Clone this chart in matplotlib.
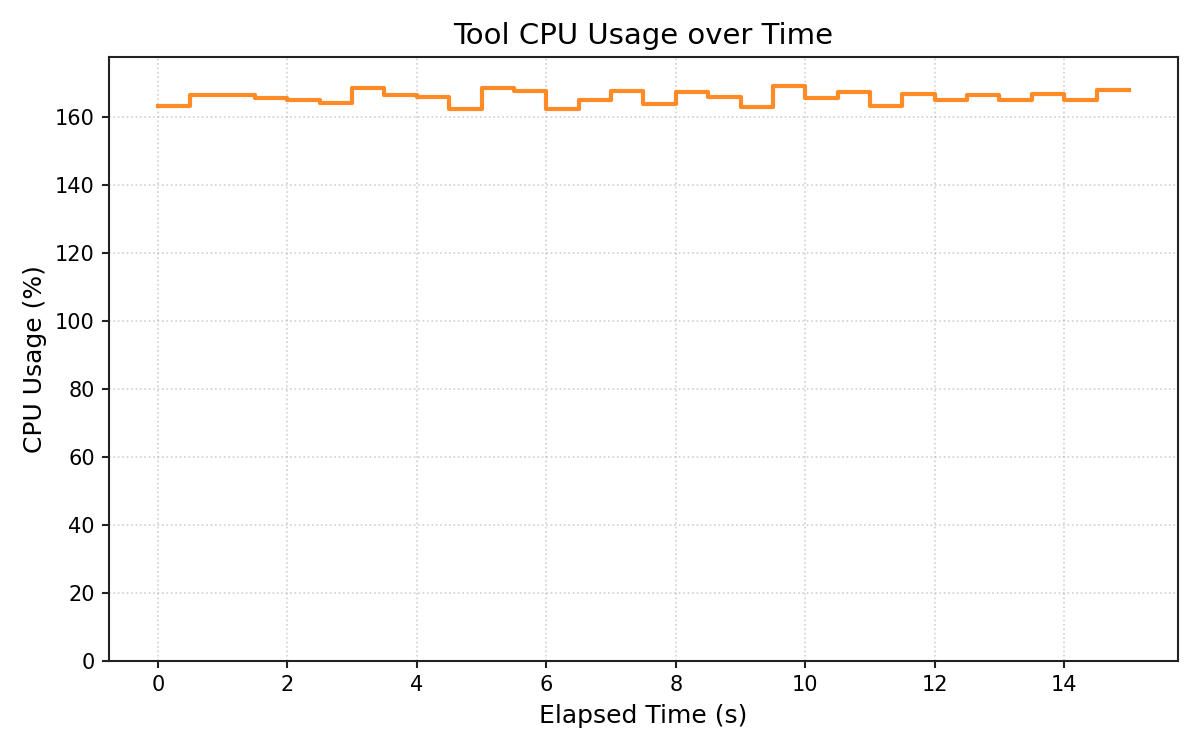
import matplotlib
matplotlib.use("Agg")
import matplotlib.pyplot as plt

time_s = [i * 0.5 for i in range(31)]
cpu_pct = [163.2, 166.5, 166.5, 165.7, 164.9, 164.1, 168.4, 166.6, 165.8, 162.5,
           168.4, 167.6, 162.5, 165.1, 167.6, 163.9, 167.5, 165.9, 162.8, 169.2,
           165.7, 167.5, 163.3, 166.9, 164.9, 166.6, 164.9, 166.9, 164.9, 167.8,
           167.8]

plt.rcParams['axes.edgecolor'] = '#222222'
plt.rcParams['axes.linewidth'] = 1.0
plt.rcParams['xtick.color'] = '#222222'
plt.rcParams['ytick.color'] = '#222222'
plt.rcParams['xtick.major.width'] = 1.0
plt.rcParams['ytick.major.width'] = 1.0

fig, ax = plt.subplots(figsize=(8, 5), dpi=150)
ax.step(time_s, cpu_pct, where='post', color='tab:orange', alpha=0.9, linewidth=2)
ax.set_ylim(0, max(cpu_pct) * 1.05)
ax.set_title("Tool CPU Usage over Time", fontsize=14)
ax.set_xlabel("Elapsed Time (s)", fontsize=12)
ax.set_ylabel("CPU Usage (%)", fontsize=12)
ax.tick_params(labelcolor='black')
ax.grid(True, linestyle=':', alpha=0.6)
fig.tight_layout()
fig.savefig("out.png", dpi=150)
